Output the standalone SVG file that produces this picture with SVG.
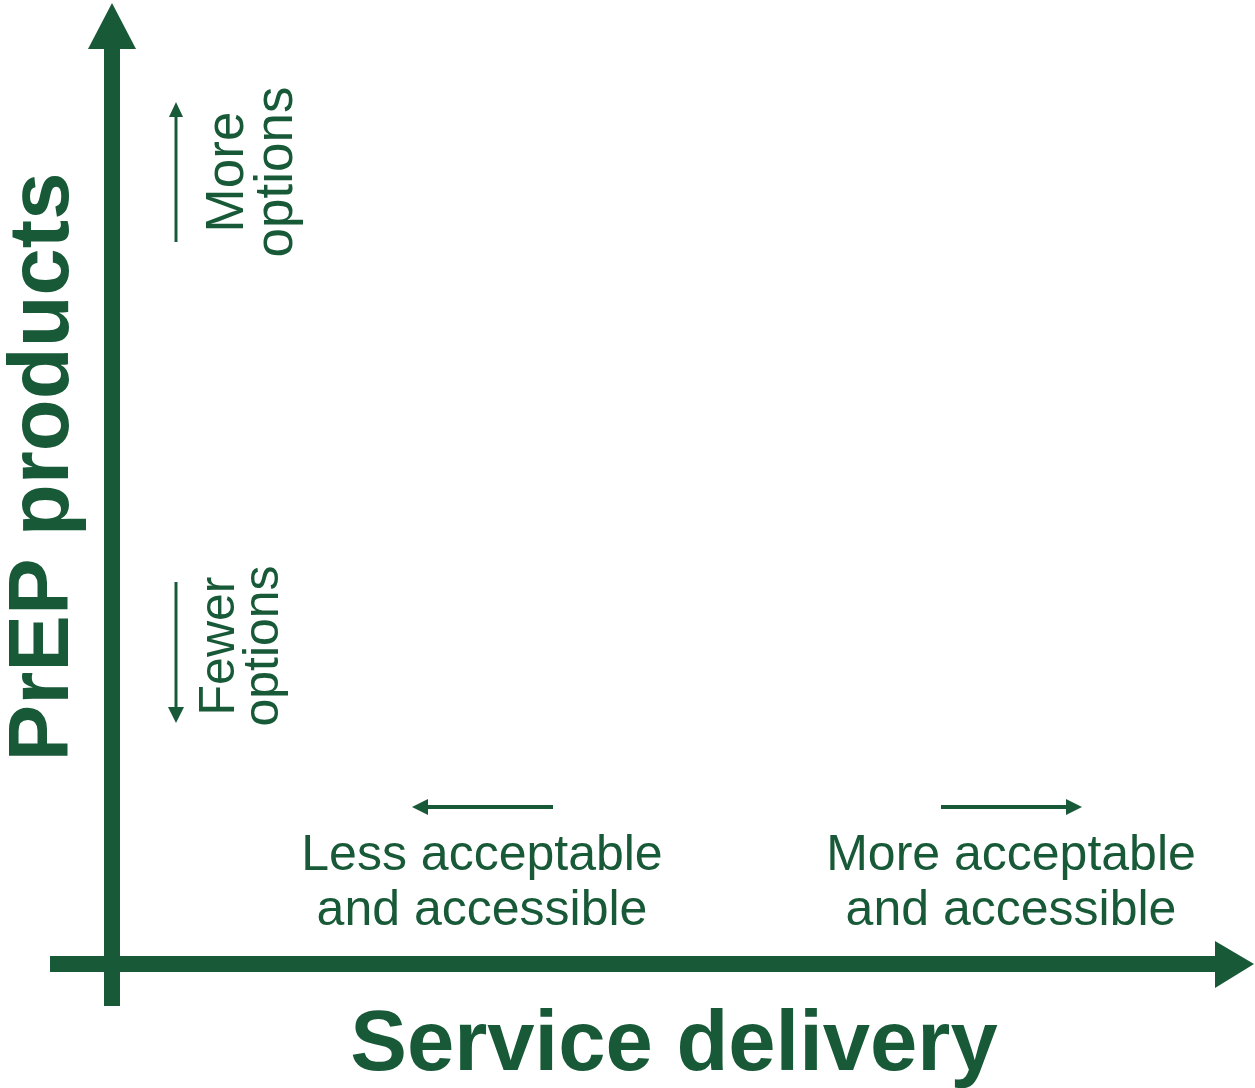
<svg xmlns="http://www.w3.org/2000/svg" width="1255" height="1088" viewBox="0 0 1255 1088">
  <style>
    .ink { fill: #185a38; }
    .lbl { font-family: "Liberation Sans", Arial, sans-serif; font-size: 50px; fill: #185a38; text-anchor: middle; }
    .lbl-lg { font-size: 53px; }
    .title { font-family: "Liberation Sans", Arial, sans-serif; font-size: 85px; font-weight: bold; fill: #185a38; text-anchor: middle; }
    .thin { stroke: #185a38; stroke-width: 3; fill: none; }
    .mid { stroke: #185a38; stroke-width: 4; fill: none; }
  </style>
  <rect width="1255" height="1088" fill="#ffffff"/>

  <!-- axes and direction arrows -->
  <g id="connectors">
    <!-- vertical axis: PrEP products -->
    <rect class="ink" x="104" y="47" width="16" height="959"/>
    <polygon class="ink" points="88,49 112,3 136,49"/>
    <!-- horizontal axis: service delivery -->
    <rect class="ink" x="50" y="956" width="1167" height="16"/>
    <polygon class="ink" points="1215,941 1254,964 1215,988"/>

    <!-- more options (up) -->
    <line class="thin" x1="176" y1="242" x2="176" y2="115"/>
    <polygon class="ink" points="169,117 176,102 183,117"/>
    <!-- fewer options (down) -->
    <line class="thin" x1="176" y1="582" x2="176" y2="708"/>
    <polygon class="ink" points="168,707 176,723 184,707"/>
    <!-- less acceptable (left) -->
    <line class="mid" x1="553" y1="807" x2="426" y2="807"/>
    <polygon class="ink" points="428,799 412,807 428,815"/>
    <!-- more acceptable (right) -->
    <line class="mid" x1="941" y1="807" x2="1068" y2="807"/>
    <polygon class="ink" points="1066,799 1082,807 1066,815"/>
  </g>

  <g id="axis-y-title">
    <text class="title" transform="translate(68,467) rotate(-90)">PrEP products</text>
  </g>
  <g id="axis-x-title">
    <text class="title" x="674" y="1070">Service delivery</text>
  </g>

  <g id="more-options">
    <text class="lbl lbl-lg" transform="translate(243,172) rotate(-90)">More</text>
    <text class="lbl lbl-lg" transform="translate(292,172) rotate(-90)">options</text>
  </g>
  <g id="fewer-options">
    <text class="lbl" transform="translate(234,646) rotate(-90)">Fewer</text>
    <text class="lbl" transform="translate(278,646) rotate(-90)">options</text>
  </g>
  <g id="less-acceptable">
    <text class="lbl" x="482" y="870">Less acceptable</text>
    <text class="lbl" x="482" y="925">and accessible</text>
  </g>
  <g id="more-acceptable">
    <text class="lbl" x="1011" y="870">More acceptable</text>
    <text class="lbl" x="1011" y="925">and accessible</text>
  </g>
</svg>
